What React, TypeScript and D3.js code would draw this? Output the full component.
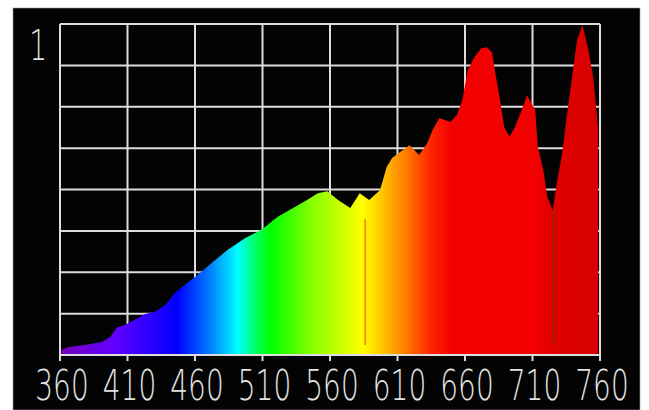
import React from 'react'
import * as d3 from 'd3'

// spectrum (nm, relative intensity)
const wavelengths = [
  361, 366, 378, 391, 397, 402, 408, 415, 423, 430, 438, 445, 452, 460, 475, 484, 497, 509, 521, 534,
  543, 551, 558, 566, 575, 582, 589, 597, 602, 606, 614, 619, 626, 632, 636, 641, 649, 654, 658, 662,
  667, 672, 676, 680, 683, 686, 689, 693, 697, 702, 706, 712, 714, 718, 721, 725, 728, 732, 735, 739,
  743, 747, 751, 755, 758, 758.6,
]
const intensity = [
  0.015, 0.024, 0.03, 0.039, 0.054, 0.082, 0.091, 0.106, 0.124, 0.13, 0.151, 0.187, 0.211, 0.236, 0.287, 0.317, 0.353, 0.378, 0.417, 0.447,
  0.468, 0.489, 0.495, 0.468, 0.444, 0.489, 0.468, 0.498, 0.568, 0.595, 0.619, 0.634, 0.604, 0.64, 0.68, 0.716, 0.704, 0.725, 0.77, 0.861,
  0.9, 0.927, 0.93, 0.915, 0.84, 0.77, 0.689, 0.659, 0.689, 0.74, 0.785, 0.74, 0.628, 0.559, 0.477, 0.438, 0.52, 0.61, 0.71, 0.831,
  0.952, 0.997, 0.93, 0.84, 0.71, 0.689,
]

const xTicks = [360, 410, 460, 510, 560, 610, 660, 710, 760]
const yGrid = [0, 0.125, 0.25, 0.375, 0.5, 0.625, 0.75, 0.875, 1]

// fill colour along the wavelength axis
const stopWavelengths = [360, 400, 430, 447, 470, 492, 505, 516, 545, 584, 600, 615, 635, 650, 712, 725, 760]
const stopColors = [
  '#7400b8', '#6200ff', '#2400ff', '#0000ff', '#0078ff', '#00ffff', '#00ff60', '#00ff00', '#80ff00', '#ffff00',
  '#ffc000', '#ff8000', '#ff2400', '#f40000', '#f20000', '#e00000', '#d60000',
]

// thin vertical streaks in the fill
const streakWavelengths = [586, 725.2]
const streakTops = [0.41, 0.438]
const streakBottoms = [0.03, 0.036]
const streakColors = ['#ff3a00', '#5a4000']

const W = 649
const H = 410
const plot = { left: 60, right: 600, top: 24, bottom: 355 }
const font = '"DejaVu Sans", sans-serif'

export default function App() {
  const x = d3.scaleLinear().domain([360, 760]).range([plot.left, plot.right])
  const y = d3.scaleLinear().domain([0, 1]).range([plot.bottom, plot.top])

  const data = wavelengths.map((w, i) => ({ w, v: intensity[i] }))
  const area = d3
    .area<{ w: number; v: number }>()
    .x((d) => x(d.w))
    .y0(y(0) - 1)
    .y1((d) => y(d.v))
    .curve(d3.curveLinear)

  const grid = '#dcdcdc'

  return (
    <svg width={W} height={H} style={{ display: 'block', position: 'absolute', left: 0, top: 0 }}>
      <defs>
        <linearGradient id="spec" gradientUnits="userSpaceOnUse" x1={x(360)} x2={x(760)} y1={0} y2={0}>
          {stopWavelengths.map((w, i) => (
            <stop key={i} offset={(w - 360) / 400} stopColor={stopColors[i]} />
          ))}
        </linearGradient>
      </defs>
      <rect x={0} y={0} width={W} height={H} fill="#fff" />
      <rect x={13} y={8} width={627} height={H - 8} fill="#030303" stroke="#9a9a9a" strokeWidth={0.6} />

      {xTicks.map((t) => (
        <line key={'v' + t} x1={x(t)} x2={x(t)} y1={plot.top} y2={plot.bottom + 6} stroke={grid} strokeWidth={2} />
      ))}
      {yGrid.map((t) => (
        <line key={'h' + t} x1={plot.left} x2={plot.right} y1={y(t)} y2={y(t)} stroke={grid} strokeWidth={2} />
      ))}

      <path d={area(data) ?? ''} fill="url(#spec)" />

      {streakWavelengths.map((w, i) => (
        <line
          key={'s' + i}
          x1={x(w)}
          x2={x(w)}
          y1={y(streakTops[i])}
          y2={y(streakBottoms[i])}
          stroke={streakColors[i]}
          strokeWidth={1}
        />
      ))}

      {xTicks.map((t) => (
        <g key={'l' + t} transform={`translate(${x(t) + 2},400) scale(1,1.5)`}>
          <text textAnchor="middle" fontFamily={font} fontWeight={200} fontSize={28} fill="#e2e2e2">
            {t}
          </text>
        </g>
      ))}
      <g transform={`translate(47,${y(1) + 36}) scale(1,1.5)`}>
        <text textAnchor="end" fontFamily={font} fontWeight={200} fontSize={28} fill="#e2e2e2">
          1
        </text>
      </g>
    </svg>
  )
}
